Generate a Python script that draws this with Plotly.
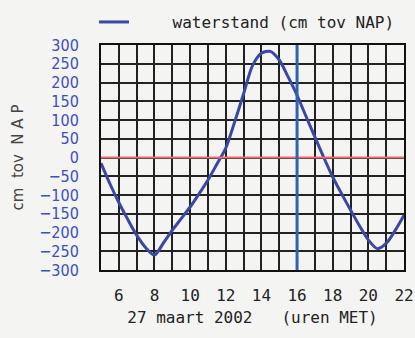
import plotly.graph_objects as go

hours = [5, 5.5, 6, 6.5, 7, 7.5, 8, 8.5, 9, 9.5, 10, 10.5, 11, 11.5, 12, 12.5, 13, 13.5,
         14, 14.5, 15, 15.5, 16, 16.5, 17, 17.5, 18, 18.5, 19, 19.5, 20, 20.5, 21, 21.5, 22]
waterstand = [-15, -70, -120, -165, -207, -240, -260, -228, -194, -163, -132, -97, -60, -18,
              25, 95, 170, 245, 278, 283, 260, 215, 166, 110, 55, 0, -52, -97, -140, -182,
              -220, -243, -229, -195, -154]
x_ticks = [6, 8, 10, 12, 14, 16, 18, 20, 22]
y_ticks = list(range(-300, 301, 50))
now_hour = 16

BLUE = "#3a47a6"
MONO = "DejaVu Sans Mono"
COND = "DejaVu Sans Condensed, Liberation Sans Narrow, DejaVu Sans"

fig = go.Figure()
fig.add_trace(go.Scatter(
    x=hours, y=waterstand, mode="lines",
    name="\u00a0\u00a0\u00a0\u00a0waterstand (cm tov NAP)",
    line=dict(color=BLUE, width=3, shape="spline", smoothing=0.8),
))

fig.add_shape(type="line", xref="x", yref="y", x0=5, x1=22, y0=0, y1=0,
              line=dict(color="#f06a6a", width=2), layer="above")
fig.add_shape(type="line", xref="x", yref="y", x0=now_hour, x1=now_hour, y0=-300, y1=300,
              line=dict(color="#2d64ae", width=3), layer="above")

fig.update_layout(
    width=415, height=338,
    margin=dict(l=101, r=11, t=45, b=68, autoexpand=False),
    paper_bgcolor="#f4f4f2", plot_bgcolor="#f4f4f2",
    showlegend=True,
    legend=dict(orientation="h", x=-0.023, xanchor="left", y=1.102, yanchor="middle",
                font=dict(family=MONO, size=16, color="#222"), bgcolor="rgba(0,0,0,0)"),
    xaxis=dict(range=[5, 22], tickvals=x_ticks, ticks="", automargin=False,
               showgrid=True, gridcolor="#222", gridwidth=1.6,
               showline=True, linecolor="#111", linewidth=2, mirror=True,
               zeroline=False, tickfont=dict(family=MONO, size=16, color="#222"),
               ticklabelstandoff=10,
               title=dict(text="27 maart 2002\u00a0\u00a0\u00a0(uren MET)",
                          font=dict(family=MONO, size=16, color="#222"), standoff=8)),
    yaxis=dict(range=[-300, 300], tickvals=y_ticks, ticks="", automargin=False,
               showgrid=True, gridcolor="#222", gridwidth=1.6,
               showline=True, linecolor="#111", linewidth=2, mirror=True,
               zeroline=False, tickfont=dict(family=COND, size=16, color="#3b4fc0"),
               ticklabelstandoff=17),
)
fig.update_xaxes(minor=dict(dtick=1, showgrid=True, gridcolor="#222", gridwidth=1.6))

fig.add_annotation(text="cm\u00a0\u00a0tov\u00a0\u00a0N\u00a0A\u00a0P", textangle=-90,
                   xref="paper", yref="paper", x=(17 - 101) / 303, y=0.5,
                   xanchor="center", yanchor="middle", showarrow=False,
                   font=dict(family="DejaVu Sans", size=15, color="#444"))

fig.write_html("out.html", config={"displayModeBar": False},
               post_script="document.body.style.margin='0';document.body.style.background='#f4f4f2';")
